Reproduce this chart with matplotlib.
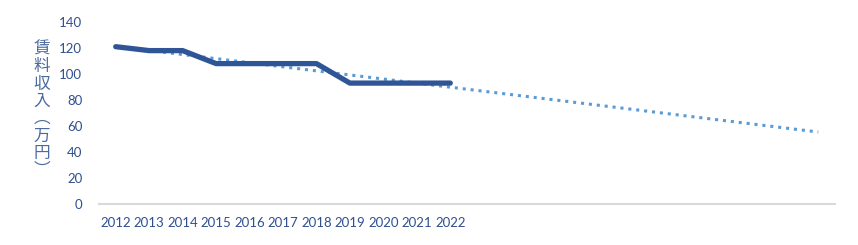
import numpy as np
import matplotlib.pyplot as plt

years = [2012, 2013, 2014, 2015, 2016, 2017, 2018, 2019, 2020, 2021, 2022]
income = [121, 118, 118, 108, 108, 108, 108, 93, 93, 93, 93]
forecast_periods = 11
ylabel_chars = ["賃", "料", "収", "入", "︵", "万", "円", "︶"]

text_color = "#2F4F8F"
line_color = "#2F5597"
trend_color = "#5B9BD5"

x = np.arange(len(years))
# linear trend line, forecast forward like Excel does
coef = np.polyfit(x, income, 1)
xt = np.arange(len(years) + forecast_periods)
yt = np.polyval(coef, xt)

fig = plt.figure(figsize=(8.58, 2.45), dpi=100)
ax = fig.add_axes([99 / 858, 41 / 245, 736 / 858, 182 / 245])

ax.plot(xt, yt, color=trend_color, linestyle=(0, (1, 1.6)), linewidth=2.2, zorder=2)
ax.plot(x, income, color=line_color, linewidth=3.8, solid_capstyle="round",
        solid_joinstyle="round", zorder=3)

ax.set_xlim(-0.5, len(xt) - 0.5)
ax.set_ylim(0, 140)
ax.set_yticks(range(0, 141, 20))
ax.set_xticks(x)
ax.set_xticklabels([str(y) for y in years])

for s in ["top", "right", "left"]:
    ax.spines[s].set_visible(False)
ax.spines["bottom"].set_color("#D9D9D9")
ax.spines["bottom"].set_linewidth(1.5)
ax.tick_params(axis="both", length=0, labelcolor=text_color, labelsize=9.5)
ax.tick_params(axis="y", pad=12)
ax.tick_params(axis="x", pad=9)
for lab in ax.get_xticklabels() + ax.get_yticklabels():
    lab.set_family("Lato")

fig.text(42 / 858, 1 - 110 / 245, "\n".join(ylabel_chars), ha="center", va="center",
         fontsize=12, color="#4A6AA0", linespacing=1.02,
         family=["Noto Sans CJK JP", "DejaVu Sans"])

fig.savefig("out.png", dpi=100)
